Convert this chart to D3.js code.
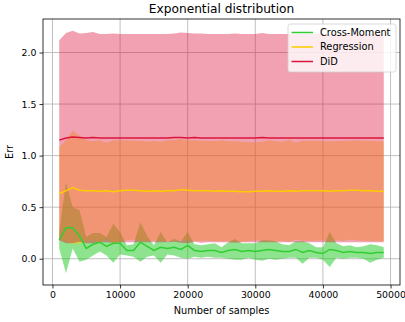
<!DOCTYPE html>
<html>
<head>
<meta charset="utf-8">
<script src="https://cdn.jsdelivr.net/npm/d3@7"></script>
<style>
  body { margin: 0; background: #fff; }
  svg { font-family: "DejaVu Sans", sans-serif; }
</style>
</head>
<body>
<div id="chart"></div>
<script>
// number of samples on the x axis
const samples = [1000, 2000, 3000, 4000, 5000, 6000, 7000, 8000, 9000, 10000,
  11000, 12000, 13000, 14000, 15000, 16000, 17000, 18000, 19000, 20000,
  21000, 22000, 23000, 24000, 25000, 26000, 27000, 28000, 29000, 30000,
  31000, 32000, 33000, 34000, 35000, 36000, 37000, 38000, 39000, 40000,
  41000, 42000, 43000, 44000, 45000, 46000, 47000, 48000, 49000];

// Cross-Moment
const cmMean = [0.18, 0.30, 0.30, 0.22, 0.10, 0.14, 0.16, 0.12, 0.15, 0.15,
  0.08, 0.08, 0.16, 0.12, 0.08, 0.11, 0.10, 0.11, 0.09, 0.13,
  0.08, 0.07, 0.08, 0.08, 0.06, 0.08, 0.09, 0.07, 0.08, 0.07,
  0.08, 0.09, 0.08, 0.07, 0.07, 0.09, 0.06, 0.08, 0.06, 0.05,
  0.09, 0.08, 0.06, 0.07, 0.06, 0.06, 0.05, 0.06, 0.06];
const cmStd = [0.08, 0.44, 0.20, 0.25, 0.11, 0.11, 0.09, 0.09, 0.19, 0.11,
  0.05, 0.06, 0.19, 0.10, 0.05, 0.15, 0.06, 0.08, 0.08, 0.13,
  0.06, 0.06, 0.06, 0.07, 0.05, 0.08, 0.10, 0.08, 0.07, 0.08,
  0.10, 0.09, 0.09, 0.07, 0.06, 0.08, 0.11, 0.07, 0.05, 0.06,
  0.17, 0.07, 0.06, 0.06, 0.05, 0.06, 0.09, 0.07, 0.05];

// Regression
const regMean = [0.63, 0.66, 0.69, 0.665, 0.66, 0.66, 0.655, 0.66, 0.65, 0.66,
  0.665, 0.665, 0.66, 0.655, 0.66, 0.655, 0.66, 0.66, 0.67, 0.665,
  0.66, 0.66, 0.66, 0.655, 0.66, 0.655, 0.655, 0.65, 0.65, 0.655,
  0.655, 0.66, 0.655, 0.655, 0.66, 0.655, 0.66, 0.66, 0.66, 0.66,
  0.655, 0.66, 0.66, 0.665, 0.665, 0.66, 0.66, 0.655, 0.655];
const regStd = [0.45, 0.49, 0.55, 0.525, 0.49, 0.48, 0.495, 0.465, 0.50, 0.49,
  0.485, 0.48, 0.485, 0.48, 0.485, 0.48, 0.49, 0.49, 0.49, 0.485,
  0.49, 0.485, 0.485, 0.485, 0.49, 0.485, 0.485, 0.485, 0.48, 0.475,
  0.48, 0.49, 0.485, 0.48, 0.495, 0.47, 0.485, 0.485, 0.485, 0.48,
  0.485, 0.48, 0.485, 0.48, 0.485, 0.485, 0.485, 0.485, 0.485];

// DiD
const didMean = [1.15, 1.17, 1.18, 1.175, 1.17, 1.175, 1.17, 1.17, 1.17, 1.17,
  1.17, 1.17, 1.17, 1.17, 1.17, 1.17, 1.17, 1.175, 1.175, 1.17,
  1.175, 1.17, 1.17, 1.17, 1.17, 1.17, 1.17, 1.17, 1.17, 1.17,
  1.175, 1.17, 1.17, 1.17, 1.17, 1.17, 1.17, 1.17, 1.17, 1.17,
  1.17, 1.17, 1.17, 1.17, 1.17, 1.17, 1.17, 1.17, 1.17];
const didStd = [0.97, 1.02, 1.03, 1.01, 1.02, 1.025, 1.01, 1.01, 1.015, 1.01,
  1.01, 1.01, 1.01, 1.01, 1.01, 1.01, 1.01, 1.01, 1.02, 1.02,
  1.01, 1.015, 1.01, 1.01, 1.01, 1.01, 1.015, 1.01, 1.01, 1.01,
  1.015, 1.01, 1.01, 1.01, 1.01, 1.01, 1.01, 1.01, 1.01, 1.01,
  1.01, 1.01, 1.01, 1.01, 1.01, 1.01, 1.01, 1.01, 1.01];

const xTicks = [0, 10000, 20000, 30000, 40000, 50000];
const yTicks = [0.0, 0.5, 1.0, 1.5, 2.0];

const series = [
  { name: "Cross-Moment", mean: cmMean, std: cmStd, color: "#32cd32", alpha: 0.55 },
  { name: "Regression", mean: regMean, std: regStd, color: "#ffcc00", alpha: 0.4 },
  { name: "DiD", mean: didMean, std: didStd, color: "#dc143c", alpha: 0.4 }
];

const width = 405;
const height = 322;
const margin = { top: 19, right: 5, bottom: 37, left: 43 };

const svg = d3.select("#chart").append("svg")
  .attr("width", width).attr("height", height);

const x = d3.scaleLinear()
  .domain([-1400, 51400])
  .range([margin.left, width - margin.right]);

const y = d3.scaleLinear()
  .domain([-0.255, 2.325])
  .range([height - margin.bottom, margin.top]);

// grid
svg.append("g")
  .selectAll("line.gx")
  .data(xTicks)
  .enter().append("line")
  .attr("x1", (d) => x(d)).attr("x2", (d) => x(d))
  .attr("y1", margin.top).attr("y2", height - margin.bottom)
  .attr("stroke", "#b0b0b0").attr("stroke-width", 0.8);

svg.append("g")
  .selectAll("line.gy")
  .data(yTicks)
  .enter().append("line")
  .attr("x1", margin.left).attr("x2", width - margin.right)
  .attr("y1", (d) => y(d)).attr("y2", (d) => y(d))
  .attr("stroke", "#b0b0b0").attr("stroke-width", 0.8);

// bands
const area = d3.area()
  .x((d) => x(d.x))
  .y0((d) => y(d.m - d.s))
  .y1((d) => y(d.m + d.s));

const line = d3.line()
  .x((d) => x(d.x))
  .y((d) => y(d.m));

series.forEach((s) => {
  s.points = samples.map((v, i) => ({ x: v, m: s.mean[i], s: s.std[i] }));
  svg.append("path")
    .attr("d", area(s.points))
    .attr("fill", s.color)
    .attr("fill-opacity", s.alpha);
});

series.forEach((s) => {
  svg.append("path")
    .attr("d", line(s.points))
    .attr("fill", "none")
    .attr("stroke", s.color)
    .attr("stroke-width", 1.5);
});

// axes
const xAxis = svg.append("g")
  .attr("transform", `translate(0, ${height - margin.bottom})`)
  .call(d3.axisBottom(x).tickValues(xTicks).tickFormat(d3.format("d")).tickSize(3.5).tickPadding(3));

const yAxis = svg.append("g")
  .attr("transform", `translate(${margin.left}, 0)`)
  .call(d3.axisLeft(y).tickValues(yTicks).tickFormat(d3.format(".1f")).tickSize(3.5).tickPadding(3));

[xAxis, yAxis].forEach((g) => {
  g.select(".domain").remove();
  g.selectAll("line").attr("stroke", "#000").attr("stroke-width", 0.8);
  g.selectAll("text").attr("fill", "#000").style("font-size", "9.4px")
    .style("font-family", "DejaVu Sans, sans-serif");
});

// frame
svg.append("rect")
  .attr("x", margin.left).attr("y", margin.top)
  .attr("width", width - margin.left - margin.right)
  .attr("height", height - margin.top - margin.bottom)
  .attr("fill", "none").attr("stroke", "#000").attr("stroke-width", 0.8);

// title and labels
svg.append("text")
  .attr("x", (margin.left + width - margin.right) / 2)
  .attr("y", 13)
  .attr("text-anchor", "middle")
  .style("font-size", "12.2px")
  .text("Exponential distribution");

svg.append("text")
  .attr("x", (margin.left + width - margin.right) / 2)
  .attr("y", 314)
  .attr("text-anchor", "middle")
  .style("font-size", "9.8px")
  .text("Number of samples");

svg.append("text")
  .attr("transform", `translate(13, ${(margin.top + height - margin.bottom) / 2}) rotate(-90)`)
  .attr("text-anchor", "middle")
  .style("font-size", "9.8px")
  .text("Err");

// legend
const legend = svg.append("g").attr("transform", "translate(288, 24)");

legend.append("rect")
  .attr("width", 108).attr("height", 48)
  .attr("rx", 2.5)
  .attr("fill", "#fff").attr("fill-opacity", 0.8)
  .attr("stroke", "#d0d0d0").attr("stroke-width", 0.8);

legend.selectAll("line")
  .data(series)
  .enter().append("line")
  .attr("x1", 3.5).attr("x2", 25)
  .attr("y1", (d, i) => 8.5 + i * 14.5)
  .attr("y2", (d, i) => 8.5 + i * 14.5)
  .attr("stroke", (d) => d.color)
  .attr("stroke-width", 1.5);

legend.selectAll("text")
  .data(series)
  .enter().append("text")
  .attr("x", 32)
  .attr("y", (d, i) => 8.5 + i * 14.5)
  .attr("dy", "0.35em")
  .style("font-size", "9.8px")
  .text((d) => d.name);
</script>
</body>
</html>
